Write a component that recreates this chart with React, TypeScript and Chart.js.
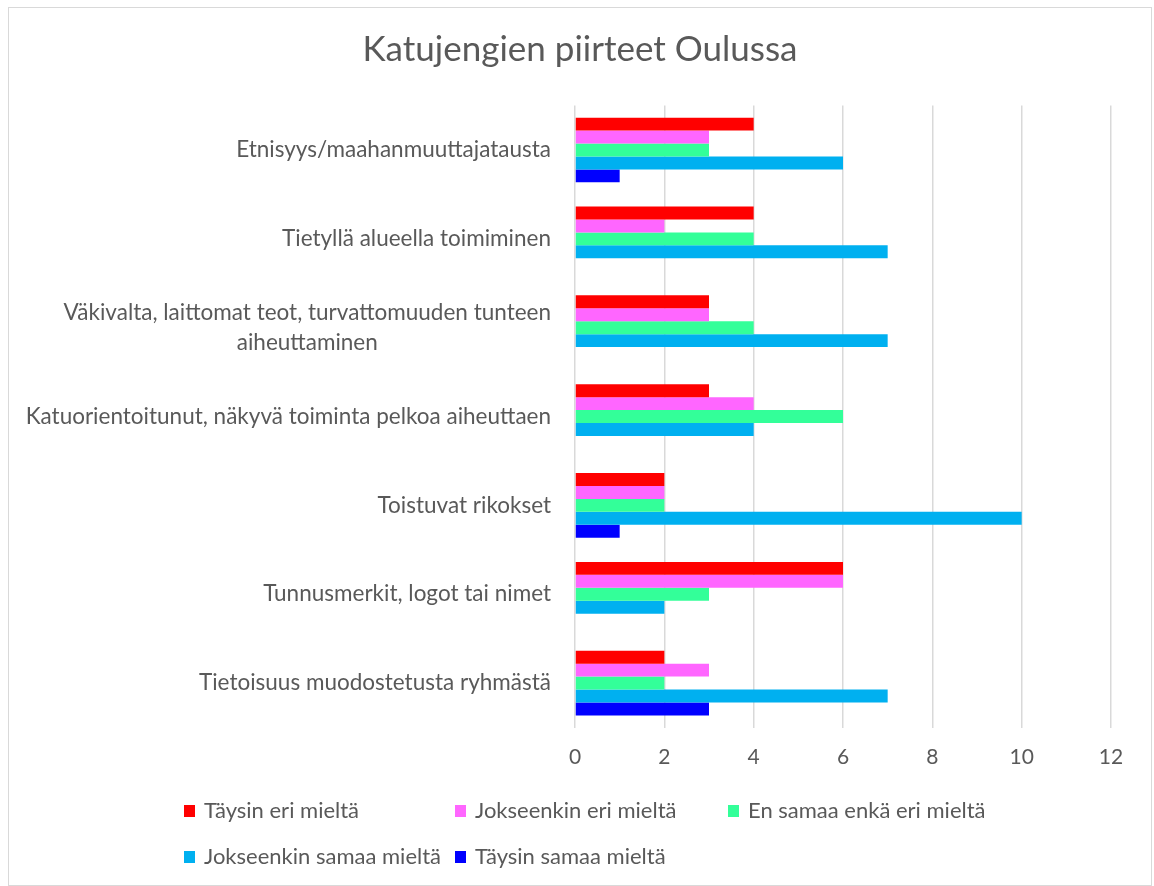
import React, { useEffect, useRef } from "react";
import { Chart, registerables } from "chart.js";

Chart.register(...registerables);

const chartTitle = "Katujengien piirteet Oulussa";

const categories: string[][] = [
  ["Etnisyys/maahanmuuttajatausta"],
  ["Tietyllä alueella toimiminen"],
  ["Väkivalta, laittomat teot, turvattomuuden tunteen", "aiheuttaminen"],
  ["Katuorientoitunut, näkyvä toiminta pelkoa aiheuttaen"],
  ["Toistuvat rikokset"],
  ["Tunnusmerkit, logot tai nimet"],
  ["Tietoisuus muodostetusta ryhmästä"],
];

const seriesNames = [
  "Täysin eri mieltä",
  "Jokseenkin eri mieltä",
  "En samaa enkä eri mieltä",
  "Jokseenkin samaa mieltä",
  "Täysin samaa mieltä",
];

const taysinEri = [4, 4, 3, 3, 2, 6, 2];
const jokseenkinEri = [3, 2, 3, 4, 2, 6, 3];
const enSamaaEnkaEri = [3, 4, 4, 6, 2, 3, 2];
const jokseenkinSamaa = [6, 7, 7, 4, 10, 2, 7];
const taysinSamaa = [1, 0, 0, 0, 1, 0, 3];

const xTickValues = [0, 2, 4, 6, 8, 10, 12];

const seriesColors = ["#FF0000", "#FF66FF", "#33FF99", "#00B0F0", "#0000FF"];

const FONT = "Lato, 'Open Sans', sans-serif";
const TEXT = "#595959";

const titlePlugin = {
  id: "customTitle",
  afterDraw(chart: any) {
    const ctx = chart.ctx;
    ctx.save();
    ctx.font = `35px ${FONT}`;
    ctx.fillStyle = TEXT;
    ctx.textAlign = "center";
    ctx.textBaseline = "middle";
    ctx.fillText(chartTitle, chart.width / 2, 42);
    ctx.restore();
  },
};

const yLabelPlugin = {
  id: "yLabels",
  afterDraw(chart: any) {
    const ctx = chart.ctx;
    const y = chart.scales.y;
    const right = chart.chartArea.left - 24;
    const size = 22.5;
    ctx.save();
    ctx.font = `${size}px ${FONT}`;
    ctx.fillStyle = TEXT;
    ctx.textBaseline = "middle";
    categories.forEach((lines, i) => {
      const cy = y.getPixelForValue(i);
      const lh = 30;
      const widths = lines.map((l) => ctx.measureText(l).width);
      const maxW = Math.max(...widths);
      const start = cy - ((lines.length - 1) * lh) / 2;
      lines.forEach((l, j) => {
        if (lines.length === 1) {
          ctx.textAlign = "right";
          ctx.fillText(l, right, start + j * lh);
        } else {
          ctx.textAlign = "center";
          ctx.fillText(l, right - maxW / 2, start + j * lh);
        }
      });
    });
    ctx.restore();
  },
};

const legendPlugin = {
  id: "gridLegend",
  afterDraw(chart: any) {
    const ctx = chart.ctx;
    const cols = [175, 446, 719];
    const rows = [803, 849];
    const size = 22;
    ctx.save();
    ctx.font = `${size}px ${FONT}`;
    ctx.textBaseline = "middle";
    ctx.textAlign = "left";
    chart.data.datasets.forEach((ds: any, i: number) => {
      const x = cols[i % 3];
      const yy = rows[Math.floor(i / 3)];
      ctx.fillStyle = ds.backgroundColor;
      ctx.fillRect(x, yy - 6, 11, 12);
      ctx.fillStyle = TEXT;
      ctx.fillText(ds.label, x + 20, yy);
    });
    ctx.restore();
  },
};

export default function App() {
  const ref = useRef<HTMLCanvasElement | null>(null);

  useEffect(() => {
    if (!ref.current) return;
    const seriesValues = [taysinEri, jokseenkinEri, enSamaaEnkaEri, jokseenkinSamaa, taysinSamaa];
    const chart = new Chart(ref.current, {
      type: "bar",
      data: {
        labels: categories.map((c) => c.join(" ")),
        datasets: seriesValues.map((vals, i) => ({
          label: seriesNames[i],
          data: vals,
          backgroundColor: seriesColors[i],
          borderWidth: 0,
          barPercentage: 1,
          categoryPercentage: 0.728,
        })),
      },
      options: {
        indexAxis: "y",
        responsive: false,
        animation: false,
        devicePixelRatio: 1,
        layout: { padding: { left: 0, right: 40, top: 97.6, bottom: 115.5 } },
        plugins: {
          legend: { display: false },
          tooltip: { enabled: false },
          title: { display: false },
        },
        scales: {
          x: {
            min: 0,
            max: 12,
            afterBuildTicks: (scale: any) => {
              scale.ticks = xTickValues.map((v) => ({ value: v }));
            },
            afterFit: (scale: any) => {
              scale.height = 42;
            },
            ticks: {
              color: TEXT,
              font: { family: FONT, size: 21, lineHeight: 1.2 },
              padding: 17,
            },
            grid: { color: "#d9d9d9", lineWidth: 1.5, drawTicks: false },
            border: { display: false },
          },
          y: {
            ticks: { display: false },
            grid: { display: false },
            border: { display: false },
            afterFit: (scale: any) => {
              scale.width = 566;
            },
          },
        },
      },
      plugins: [titlePlugin, yLabelPlugin, legendPlugin],
    });
    return () => chart.destroy();
  }, []);

  return (
    <div
      style={{
        position: "absolute",
        left: 8,
        top: 7,
        width: 1144,
        height: 879,
        border: "1px solid #d9d9d9",
        boxSizing: "border-box",
        background: "#fff",
      }}
    >
      <canvas ref={ref} width={1142} height={877} style={{ display: "block" }} />
    </div>
  );
}
